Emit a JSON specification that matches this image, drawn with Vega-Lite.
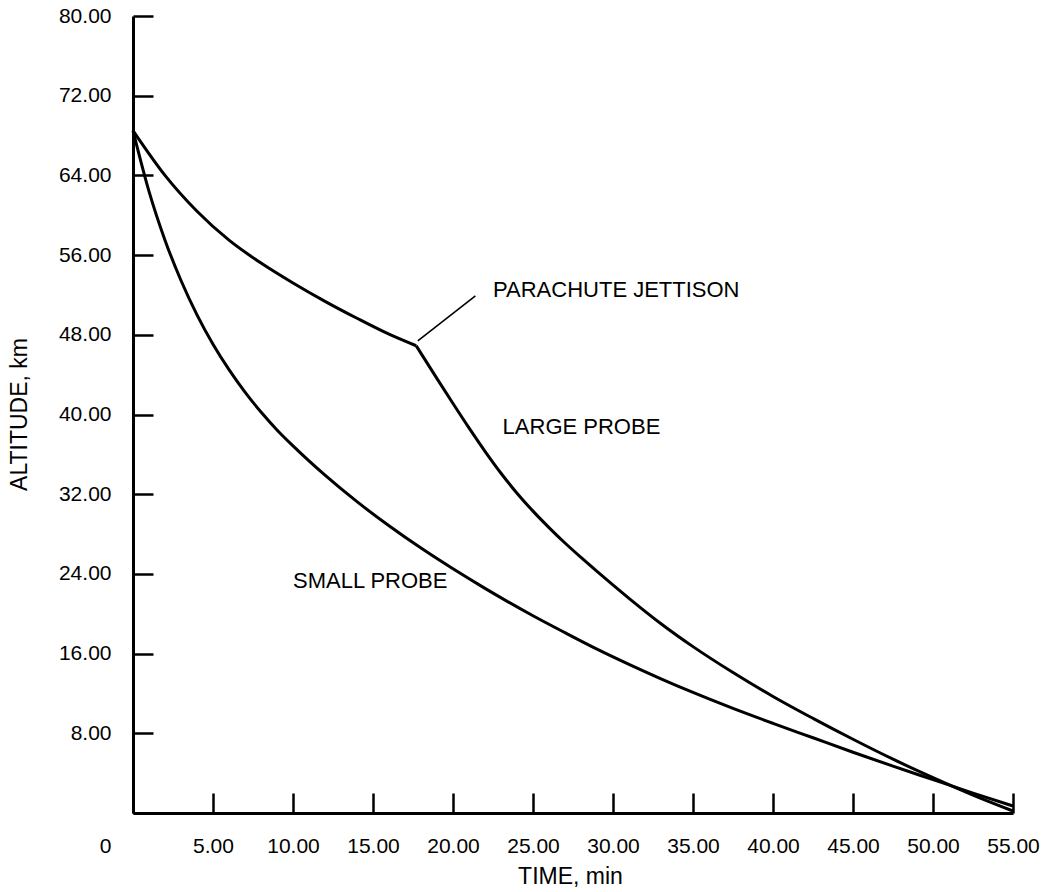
{
  "$schema": "https://vega.github.io/schema/vega-lite/v6.json",
  "width": 880,
  "height": 797,
  "autosize": {"type": "none"},
  "padding": {"left": 133, "top": 16, "right": 39, "bottom": 79},
  "background": "white",
  "config": {"view": {"stroke": null}, "font": "Liberation Sans"},
  "datasets": {
    "curves": [
      {"curve": "large_chute", "t": 0, "alt": 68.5},
      {"curve": "large_chute", "t": 2, "alt": 64.0},
      {"curve": "large_chute", "t": 4, "alt": 60.4},
      {"curve": "large_chute", "t": 6, "alt": 57.5},
      {"curve": "large_chute", "t": 8, "alt": 55.2},
      {"curve": "large_chute", "t": 10, "alt": 53.2},
      {"curve": "large_chute", "t": 12, "alt": 51.36},
      {"curve": "large_chute", "t": 14, "alt": 49.66},
      {"curve": "large_chute", "t": 16, "alt": 48.06},
      {"curve": "large_chute", "t": 17.7, "alt": 46.9},
      {"curve": "large_fall", "t": 17.7, "alt": 46.9},
      {"curve": "large_fall", "t": 19, "alt": 43.6},
      {"curve": "large_fall", "t": 20, "alt": 41.1},
      {"curve": "large_fall", "t": 21, "alt": 38.65},
      {"curve": "large_fall", "t": 22, "alt": 36.3},
      {"curve": "large_fall", "t": 23, "alt": 34.1},
      {"curve": "large_fall", "t": 24, "alt": 32.1},
      {"curve": "large_fall", "t": 25, "alt": 30.3},
      {"curve": "large_fall", "t": 26, "alt": 28.65},
      {"curve": "large_fall", "t": 27, "alt": 27.1},
      {"curve": "large_fall", "t": 28, "alt": 25.65},
      {"curve": "large_fall", "t": 29, "alt": 24.25},
      {"curve": "large_fall", "t": 31, "alt": 21.55},
      {"curve": "large_fall", "t": 33, "alt": 19.0},
      {"curve": "large_fall", "t": 35, "alt": 16.7},
      {"curve": "large_fall", "t": 37.5, "alt": 14.1},
      {"curve": "large_fall", "t": 40, "alt": 11.7},
      {"curve": "large_fall", "t": 42.5, "alt": 9.5},
      {"curve": "large_fall", "t": 45, "alt": 7.4},
      {"curve": "large_fall", "t": 47.5, "alt": 5.4},
      {"curve": "large_fall", "t": 50, "alt": 3.55},
      {"curve": "large_fall", "t": 52.5, "alt": 1.8},
      {"curve": "large_fall", "t": 55, "alt": 0.2},
      {"curve": "small", "t": 0, "alt": 68.5},
      {"curve": "small", "t": 1, "alt": 62.4},
      {"curve": "small", "t": 2, "alt": 57.5},
      {"curve": "small", "t": 3, "alt": 53.45},
      {"curve": "small", "t": 4, "alt": 50.0},
      {"curve": "small", "t": 5, "alt": 47.05},
      {"curve": "small", "t": 6, "alt": 44.5},
      {"curve": "small", "t": 7, "alt": 42.25},
      {"curve": "small", "t": 8, "alt": 40.25},
      {"curve": "small", "t": 9, "alt": 38.45},
      {"curve": "small", "t": 10, "alt": 36.85},
      {"curve": "small", "t": 12, "alt": 33.91},
      {"curve": "small", "t": 14, "alt": 31.25},
      {"curve": "small", "t": 16, "alt": 28.83},
      {"curve": "small", "t": 18, "alt": 26.59},
      {"curve": "small", "t": 20, "alt": 24.51},
      {"curve": "small", "t": 22, "alt": 22.55},
      {"curve": "small", "t": 25, "alt": 19.8},
      {"curve": "small", "t": 27, "alt": 18.1},
      {"curve": "small", "t": 29, "alt": 16.45},
      {"curve": "small", "t": 31, "alt": 14.92},
      {"curve": "small", "t": 33, "alt": 13.47},
      {"curve": "small", "t": 35, "alt": 12.1},
      {"curve": "small", "t": 37.5, "alt": 10.5},
      {"curve": "small", "t": 40, "alt": 9.0},
      {"curve": "small", "t": 42.5, "alt": 7.55},
      {"curve": "small", "t": 45, "alt": 6.1},
      {"curve": "small", "t": 47.5, "alt": 4.7},
      {"curve": "small", "t": 50, "alt": 3.35},
      {"curve": "small", "t": 52.5, "alt": 2.0},
      {"curve": "small", "t": 55, "alt": 0.7}
    ],
    "leader": [{"t1": 17.8, "a1": 47.4, "t2": 21.4, "a2": 51.9}],
    "labels": [
      {"t": 22.5, "alt": 52.5, "text": "PARACHUTE JETTISON"},
      {"t": 23.1, "alt": 38.7, "text": "LARGE PROBE"},
      {"t": 10.0, "alt": 23.3, "text": "SMALL PROBE"}
    ]
  },
  "layer": [
    {
      "data": {"name": "curves"},
      "mark": {"type": "line", "color": "black", "strokeWidth": 3, "interpolate": "monotone"},
      "encoding": {
        "x": {
          "field": "t", "type": "quantitative",
          "scale": {"domain": [0, 55], "nice": false, "zero": false},
          "axis": {
            "values": [0, 5, 10, 15, 20, 25, 30, 35, 40, 45, 50, 55],
            "labelExpr": "datum.value == 0 ? '0' : format(datum.value, '.2f')",
            "tickSize": -20, "tickWidth": 2.5, "tickColor": "black",
            "domainColor": "black", "domainWidth": 3,
            "labelPadding": 42, "labelFontSize": 21, "labelColor": "black",
            "labelOffset": {"condition": {"test": "datum.value == 0", "value": -28}, "value": 0},
            "labelFlush": false, "labelOverlap": false, "grid": false,
            "title": "TIME, min", "titleFontSize": 23, "titleFontWeight": "normal", "titleColor": "black",
            "titleX": 437, "titleY": 63, "titleBaseline": "middle", "titleAlign": "center"
          }
        },
        "y": {
          "field": "alt", "type": "quantitative",
          "scale": {"domain": [0, 80], "nice": false},
          "axis": {
            "values": [0, 8, 16, 24, 32, 40, 48, 56, 64, 72, 80],
            "labelExpr": "datum.value == 0 ? '' : format(datum.value, '.2f')",
            "tickSize": -20, "tickWidth": 2.5, "tickColor": "black",
            "domainColor": "black", "domainWidth": 3,
            "labelPadding": 42, "labelFontSize": 21, "labelColor": "black",
            "labelFlush": false, "labelOverlap": false, "grid": false,
            "title": "ALTITUDE, km", "titleFontSize": 23, "titleFontWeight": "normal", "titleColor": "black",
            "titleX": -114, "titleY": 398, "titleAngle": -90, "titleBaseline": "middle", "titleAlign": "center"
          }
        },
        "detail": {"field": "curve", "type": "nominal"}
      }
    },
    {
      "data": {"name": "leader"},
      "mark": {"type": "rule", "color": "black", "strokeWidth": 1.6},
      "encoding": {
        "x": {"field": "t1", "type": "quantitative"},
        "y": {"field": "a1", "type": "quantitative"},
        "x2": {"field": "t2"},
        "y2": {"field": "a2"}
      }
    },
    {
      "data": {"name": "labels"},
      "mark": {"type": "text", "align": "left", "baseline": "middle", "fontSize": 22, "color": "black"},
      "encoding": {
        "x": {"field": "t", "type": "quantitative"},
        "y": {"field": "alt", "type": "quantitative"},
        "text": {"field": "text"}
      }
    }
  ]
}
